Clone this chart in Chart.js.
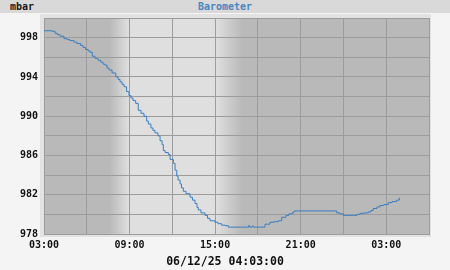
<!DOCTYPE html>
<html>
<head>
<meta charset="utf-8">
<script src="https://cdn.jsdelivr.net/npm/chart.js@4"></script>
<style>
  body { margin: 0; background: #f4f4f4; }
  #wrap { position: relative; width: 450px; height: 270px; overflow: hidden; }
  #band { position: absolute; left: 0; top: 0; width: 450px; height: 13px; background: #d9d9d9; }
  .lbl { position: absolute; font-family: "DejaVu Sans Mono", monospace; font-weight: bold; white-space: nowrap; }
  #unit { left: 10px; top: 0px; font-size: 10px; line-height: 13px; color: #1a1a1a; }
  #title { left: 0; width: 450px; top: 0px; text-align: center; font-size: 10px; line-height: 13px; color: #4a86c0; }
  #stamp { left: 0; width: 450px; top: 254px; text-align: center; font-size: 11.5px; line-height: 15px; color: #111; }
  canvas { position: absolute; left: 0; top: 0; }
</style>
</head>
<body>
<div id="wrap">
  <div id="band"></div>
  <div id="unit" class="lbl">mbar</div>
  <div id="title" class="lbl">Barometer</div>
  <canvas id="baroChart" width="450" height="270"></canvas>
  <div id="stamp" class="lbl">06/12/25 04:03:00</div>
</div>
<script>
// hours since midnight of the first day (27 = 03:00 next day)
const hours = [
  3.00, 3.56, 3.77, 3.93, 4.12, 4.40, 4.61, 4.82, 5.10, 5.31,
  5.57, 5.74, 5.92, 6.09, 6.23, 6.39, 6.58, 6.79, 6.98, 7.14,
  7.28, 7.42, 7.56, 7.77, 8.03, 8.19, 8.33, 8.47, 8.61, 8.79,
  8.96, 9.10, 9.24, 9.43, 9.61, 9.80, 10.01, 10.20, 10.32, 10.50,
  10.64, 10.78, 10.99, 11.14, 11.28, 11.37, 11.49, 11.72, 11.84, 12.07,
  12.19, 12.31, 12.40, 12.54, 12.64, 12.77, 12.96, 13.24, 13.41, 13.59,
  13.73, 13.82, 14.01, 14.29, 14.47, 14.64, 14.99, 15.20, 15.46, 15.69,
  15.93, 17.35, 17.42, 17.60, 17.70, 18.50, 18.85, 19.13, 19.43, 19.67,
  19.97, 20.18, 20.44, 20.53, 23.34, 23.53, 23.76, 23.99, 24.69, 24.95,
  25.16, 25.44, 25.74, 25.93, 26.09, 26.35, 26.56, 26.84, 27.15, 27.41,
  27.73, 27.92
];
const pressure = [
  998.7, 998.65, 998.45, 998.3, 998.15, 997.9, 997.8, 997.7, 997.55, 997.4,
  997.2, 997.0, 996.8, 996.65, 996.5, 996.1, 995.9, 995.7, 995.5, 995.3,
  995.2, 994.9, 994.7, 994.4, 994.0, 993.75, 993.5, 993.25, 993.0, 992.5,
  992.1, 991.85, 991.6, 991.3, 990.6, 990.3, 990.0, 989.5, 989.2, 988.8,
  988.55, 988.3, 988.0, 987.5, 987.1, 986.5, 986.3, 986.1, 985.6, 985.2,
  984.5, 983.9, 983.5, 983.1, 982.7, 982.35, 982.1, 981.75, 981.45, 981.1,
  980.7, 980.45, 980.15, 979.9, 979.6, 979.35, 979.2, 979.05, 978.9, 978.85,
  978.7, 978.85, 978.7, 978.8, 978.7, 979.0, 979.2, 979.25, 979.35, 979.7,
  979.9, 980.05, 980.2, 980.35, 980.35, 980.15, 980.05, 979.9, 979.9, 980.0,
  980.1, 980.15, 980.25, 980.4, 980.6, 980.75, 980.9, 981.0, 981.2, 981.3,
  981.45, 981.7
];
const xTickHours = [3, 9, 15, 21, 27];
const xTickLabels = ['03:00', '09:00', '15:00', '21:00', '03:00'];
const yTickLabels = [978, 982, 986, 990, 994, 998];
// dawn start, dawn end, dusk start, dusk end (hours)
const shadeHours = [7.6, 8.95, 15.05, 16.9];

const nightColor = '#b9b9b9';
const dayColor = '#dfdfdf';
const gridColor = '#9c9c9c';

const backdrop = {
  id: 'backdrop',
  beforeDraw(chart) {
    const { ctx, chartArea: a, scales: { x } } = chart;
    ctx.save();
    // light frame around the plot
    ctx.fillStyle = '#e2e2e2';
    ctx.fillRect(a.left - 4, a.top - 4, a.right - a.left + 6, a.bottom - a.top + 7);
    // night / day shading
    const g = ctx.createLinearGradient(a.left, 0, a.right, 0);
    const w = a.right - a.left;
    const stop = h => Math.min(1, Math.max(0, (x.getPixelForValue(h) - a.left) / w));
    g.addColorStop(0, nightColor);
    g.addColorStop(stop(shadeHours[0]), nightColor);
    g.addColorStop(stop(shadeHours[1]), dayColor);
    g.addColorStop(stop(shadeHours[2]), dayColor);
    g.addColorStop(stop(shadeHours[3]), nightColor);
    g.addColorStop(1, nightColor);
    ctx.fillStyle = g;
    ctx.fillRect(a.left, a.top, w, a.bottom - a.top);
    ctx.restore();
  }
};

const tickFont = { family: 'DejaVu Sans Mono', size: 10, weight: 'bold' };

new Chart(document.getElementById('baroChart').getContext('2d'), {
  type: 'line',
  data: {
    labels: hours,
    datasets: [{
      data: hours.map((h, i) => ({ x: h, y: pressure[i] })),
      borderColor: '#3b7ec0',
      borderWidth: 1,
      pointRadius: 0,
      stepped: true,
      fill: false
    }]
  },
  options: {
    responsive: false,
    animation: false,
    layout: { padding: { top: 18, right: 21, left: 0, bottom: 0 } },
    plugins: { legend: { display: false }, tooltip: { enabled: false } },
    scales: {
      x: {
        type: 'linear',
        min: 3,
        max: 30,
        afterFit: s => { s.height = 36; },
        afterBuildTicks: s => {
          s.ticks = [];
          for (let h = 3; h <= 30; h += 3) s.ticks.push({ value: h });
        },
        grid: { color: gridColor, drawTicks: false },
        border: { color: gridColor },
        ticks: {
          autoSkip: false,
          maxRotation: 0,
          padding: 5,
          color: '#111',
          font: tickFont,
          callback: v => {
            const i = xTickHours.indexOf(v);
            return i >= 0 ? xTickLabels[i] : '';
          }
        }
      },
      y: {
        min: 978,
        max: 1000,
        afterFit: s => { s.width = 44; },
        grid: { color: gridColor, drawTicks: false },
        border: { color: gridColor },
        ticks: {
          stepSize: 2,
          padding: 6,
          color: '#111',
          font: tickFont,
          callback: v => yTickLabels.includes(v) ? String(v) : ''
        }
      }
    }
  },
  plugins: [backdrop]
});
</script>
</body>
</html>
